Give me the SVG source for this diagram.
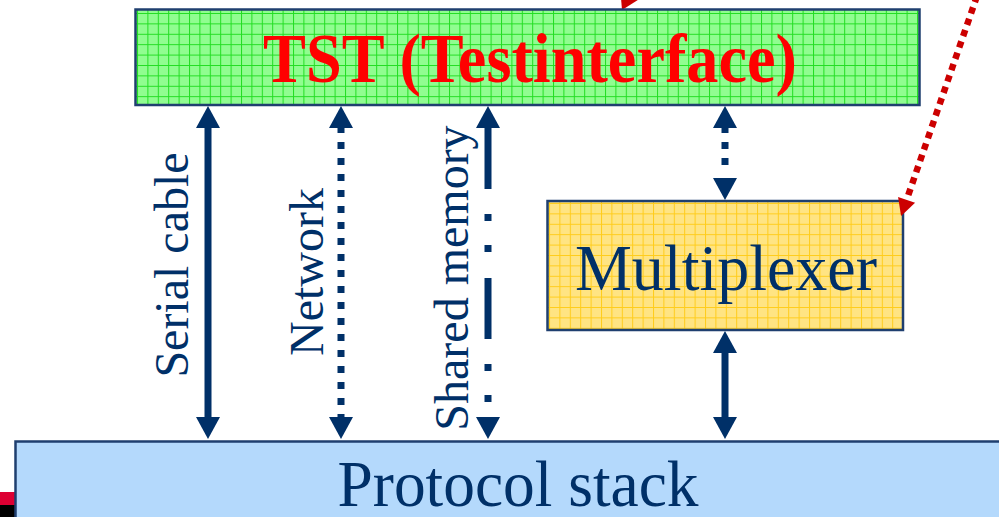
<svg xmlns="http://www.w3.org/2000/svg" width="999" height="517" viewBox="0 0 999 517">
<style>
.box{stroke:#1f3f6f;stroke-width:2.5}
.lbl{font-family:"Liberation Serif","Times New Roman",serif;fill:#003068}
.ln{stroke:#003068;stroke-width:7;fill:none}
</style>
<defs>
<pattern id="gGrid" width="10.4" height="10.4" patternUnits="userSpaceOnUse" x="137" y="13">
<rect width="10.4" height="10.4" fill="#8cfc8c"/>
<rect x="1" y="1" width="9.4" height="9.4" fill="#92fd92" opacity="0.6"/>
<path d="M0,0.5H10.4M0.5,0V10.4" stroke="#22dd22" stroke-width="1"/>
</pattern>
<pattern id="yGrid" width="10.4" height="10.4" patternUnits="userSpaceOnUse" x="549" y="203">
<rect width="10.4" height="10.4" fill="#ffe483"/>
<path d="M0,0.5H10.4M0.5,0V10.4" stroke="#ffcc1a" stroke-width="1"/>
</pattern>
<marker id="ah" markerUnits="userSpaceOnUse" markerWidth="22" markerHeight="24" refX="0" refY="12" orient="auto-start-reverse" overflow="visible">
<path d="M0,0 L22,12 L0,24 Z" fill="#003068"/>
</marker>
<marker id="rh" markerUnits="userSpaceOnUse" markerWidth="18" markerHeight="18" refX="0" refY="9" orient="auto" overflow="visible">
<path d="M0,0 L17,9 L0,18 Z" fill="#cc0000"/>
</marker>
</defs>

<g id="decor">
<rect x="0" y="492" width="16" height="13" fill="#dd0033"/>
<rect x="0" y="505" width="16" height="12" fill="#000"/>
<polygon points="622,10 621,-2 641,-2" fill="#cc0000"/>
</g>

<g id="tst">
<rect class="box" x="135.5" y="9.5" width="784" height="95.5" fill="url(#gGrid)"/>
<text x="530" y="82" text-anchor="middle" font-family="Liberation Serif, Times New Roman, serif" font-weight="bold" font-size="69" fill="#ff0000" textLength="534" lengthAdjust="spacingAndGlyphs">TST (Testinterface)</text>
</g>

<g id="multiplexer">
<rect class="box" x="547.5" y="201" width="355.5" height="129" fill="url(#yGrid)"/>
<text class="lbl" x="726" y="290" text-anchor="middle" font-size="65" textLength="302" lengthAdjust="spacingAndGlyphs">Multiplexer</text>
</g>

<g id="protocol">
<rect class="box" x="15.5" y="441.5" width="995" height="90" fill="#b4d9fc"/>
<text class="lbl" x="518" y="506" text-anchor="middle" font-size="65" textLength="361" lengthAdjust="spacingAndGlyphs">Protocol stack</text>
</g>

<g id="connectors">
<line class="ln" x1="208" y1="128" x2="208" y2="417" marker-start="url(#ah)" marker-end="url(#ah)"/>
<line class="ln" x1="341" y1="128" x2="341" y2="417" stroke-dasharray="7 9" stroke-dashoffset="2" marker-start="url(#ah)" marker-end="url(#ah)"/>
<line class="ln" x1="488" y1="128" x2="488" y2="417" stroke-dasharray="61 25 7 24 7 26" marker-start="url(#ah)" marker-end="url(#ah)"/>
<line class="ln" x1="725" y1="128" x2="725" y2="178" stroke-dasharray="5 9 7 9 7 30" marker-start="url(#ah)" marker-end="url(#ah)"/>
<line class="ln" x1="725" y1="353" x2="725" y2="417" marker-start="url(#ah)" marker-end="url(#ah)"/>
<line x1="977" y1="-4" x2="906.6" y2="199.9" stroke="#cc0000" stroke-width="6.5" stroke-dasharray="6.5 5.5" marker-end="url(#rh)"/>
</g>

<g id="labels">
<text class="lbl" font-size="48" text-anchor="middle" transform="translate(188,265) rotate(-90)">Serial cable</text>
<text class="lbl" font-size="48" text-anchor="middle" transform="translate(323,272) rotate(-90)">Network</text>
<text class="lbl" font-size="48" text-anchor="middle" transform="translate(468,278) rotate(-90)">Shared memory</text>
</g>
</svg>
